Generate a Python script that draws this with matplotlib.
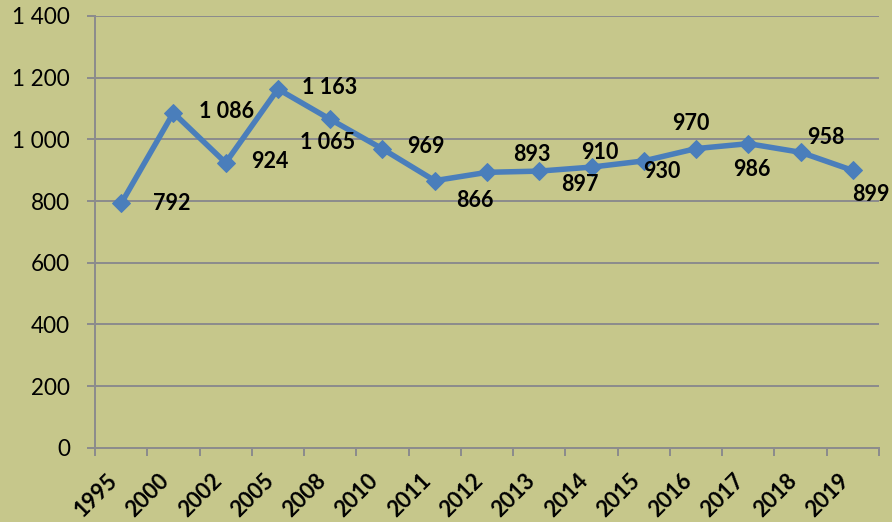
import numpy as np
import matplotlib
matplotlib.use("Agg")
import matplotlib.pyplot as plt
from matplotlib.ticker import FixedLocator

# data
years = ["1995", "2000", "2002", "2005", "2008", "2010", "2011", "2012",
         "2013", "2014", "2015", "2016", "2017", "2018", "2019"]
values = [792, 1086, 924, 1163, 1065, 969, 866, 893, 897, 910, 930, 970, 986, 958, 899]
yticks = [0, 200, 400, 600, 800, 1000, 1200, 1400]

# label offsets (pixels, right / up) as placed in the original
label_dx = [51, 53, 44, 52, -3, 43, 40, 45, 41, 8, 18, -5, 4, 25, 18]
label_dy = [0, 1, 1, 2, -23, 2, -20, 18, -13, 15, -11, 25, -26, 15, -24]

bg = "#c6c78b"
blue = "#4a7ebb"
grey = "#8c8c8c"

plt.rcParams["font.family"] = ["Lato", "DejaVu Sans"]

fig = plt.figure(figsize=(892 / 72, 522 / 72), dpi=72, facecolor=bg)
ax = fig.add_axes([95 / 892, 1 - 447.7 / 522, (879 - 95) / 892, (447.7 - 16) / 522])
ax.set_facecolor(bg)

x = np.arange(len(years))
ax.plot(x, values, color=blue, lw=5.5, marker="D", ms=13, mec=blue, mfc=blue, zorder=3)

for xi, v, dx, dy in zip(x, values, label_dx, label_dy):
    ax.annotate(f"{v:,}".replace(",", " "), (xi, v), xytext=(dx, dy),
                textcoords="offset points", ha="center", va="center",
                fontsize=21.5, fontweight="bold", color="black", zorder=4)

ax.set_xlim(-0.5, len(years) - 0.5)
ax.set_ylim(0, 1400)

# y axis
ax.set_yticks(yticks)
ax.set_yticklabels([f"{v:,}".replace(",", " ") for v in yticks])
ax.tick_params(axis="y", length=8, width=2, color=grey, pad=17, labelsize=22.5)
ax.grid(axis="y", color=grey, lw=2)
ax.set_axisbelow(True)

# x axis: ticks between categories, labels in the middle
ax.set_xticks(x)
ax.set_xticklabels(years, rotation=45, ha="right", fontweight="bold", fontsize=22)
ax.xaxis.set_minor_locator(FixedLocator(np.arange(-0.5, len(years), 1)))
ax.tick_params(axis="x", which="major", length=0, pad=22)
ax.tick_params(axis="x", which="minor", length=8, width=2, color=grey)

for s in ["top", "right"]:
    ax.spines[s].set_visible(False)
for s in ["left", "bottom"]:
    ax.spines[s].set_color(grey)
    ax.spines[s].set_linewidth(2)

fig.savefig("out.png", dpi=72, facecolor=bg)
